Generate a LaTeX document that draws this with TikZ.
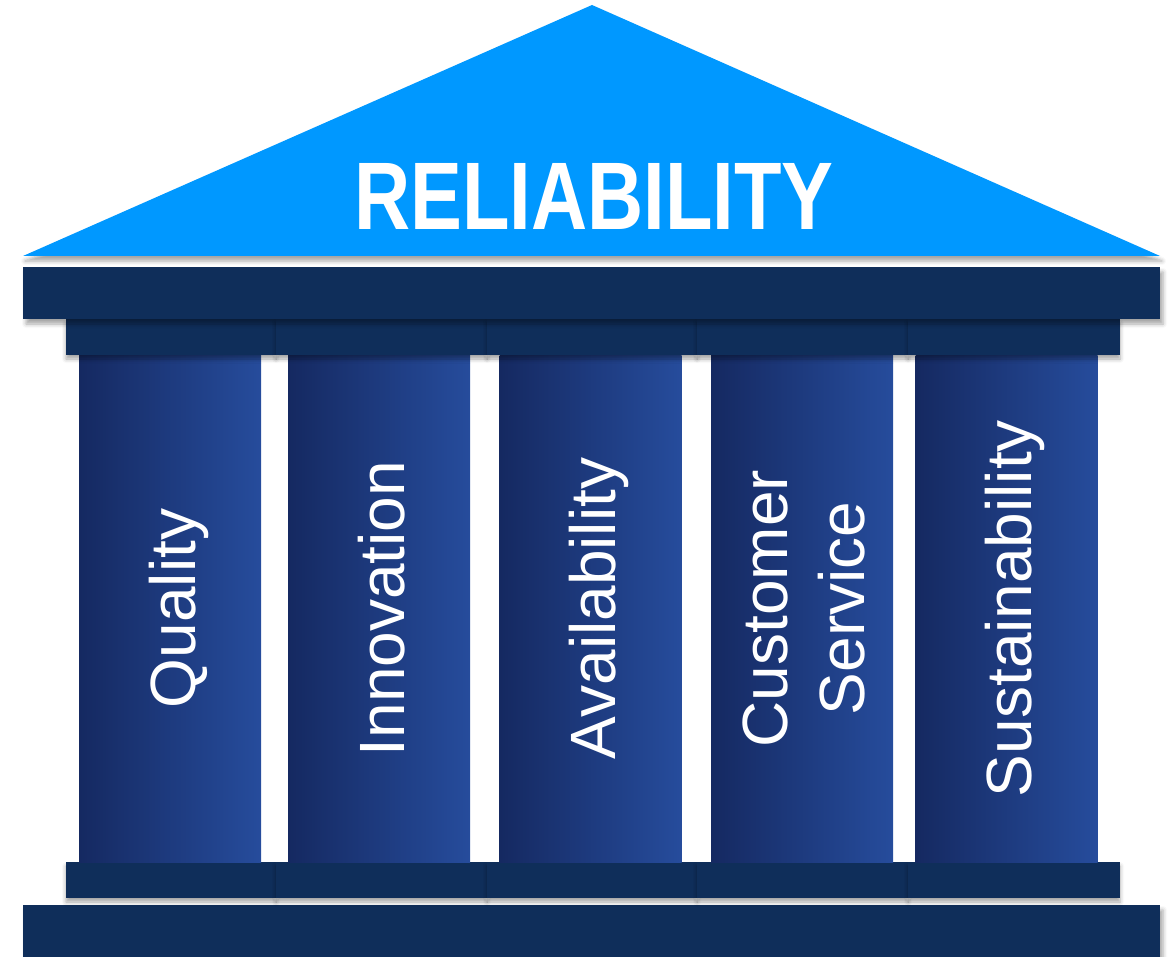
\documentclass[tikz,border=0pt]{standalone}
\usepackage{fontspec}
\setmainfont{Liberation Sans}
\usepackage{graphicx}
\usetikzlibrary{shadows.blur}

\definecolor{roofblue}{RGB}{0,152,255}
\definecolor{beamnavy}{RGB}{15,46,90}
\definecolor{pillardark}{RGB}{21,41,97}
\definecolor{pillarlight}{RGB}{38,76,156}

\begin{document}
\begin{tikzpicture}[x=1pt, y=-1pt,
    beam/.style={fill=beamnavy, blur shadow={shadow xshift=3pt, shadow yshift=-5pt, shadow blur radius=4pt, shadow opacity=35}},
    capital/.style={fill=beamnavy, blur shadow={shadow xshift=0pt, shadow yshift=-4pt, shadow blur radius=4pt, shadow opacity=35}},
    pillar/.style={left color=pillardark, right color=pillarlight, minimum width=182pt, minimum height=507pt, inner sep=0pt},
    pillartext/.style={text=white, rotate=90, align=center, text depth=0pt, inner sep=0pt, font=\fontsize{64}{77}\selectfont},
    rooftext/.style={text=white, inner sep=0pt, font=\bfseries\fontsize{96}{110}\selectfont}]

\useasboundingbox (0,0) rectangle (1174,957);

% floor and plinths
\path[beam] (23,905) rectangle (1160,957);
\foreach \xa/\xb in {66/276, 276/487, 487/697, 697/908, 908/1120}
  \path[capital] (\xa,862) rectangle (\xb,898);

% pillars
\foreach \cx/\name/\txt in {170/quality/Quality, 379/innovation/Innovation, 590.5/availability/Availability, 802/service/{Customer\\Service}, 1006.5/sustain/Sustainability}{
  \node[pillar] (\name) at (\cx,608.5) {};
  \node[pillartext] (\name-text) at ([xshift=2pt]\name.center) {\txt};
}

% capitals and architrave
\foreach \xa/\xb in {66/276, 276/487, 487/697, 697/908, 908/1120}
  \path[capital] (\xa,319) rectangle (\xb,355);
\path[beam] (23,267) rectangle (1160,319);

% roof
\path[fill=roofblue, blur shadow={shadow xshift=2pt, shadow yshift=-5pt, shadow blur radius=4pt, shadow opacity=35}]
  (23,256) -- (592,5) -- (1160,256) -- cycle;
\node[rooftext, anchor=base] (title) at (594,230) {\scalebox{0.81}[1]{RELIABILITY}};
\end{tikzpicture}
\end{document}
